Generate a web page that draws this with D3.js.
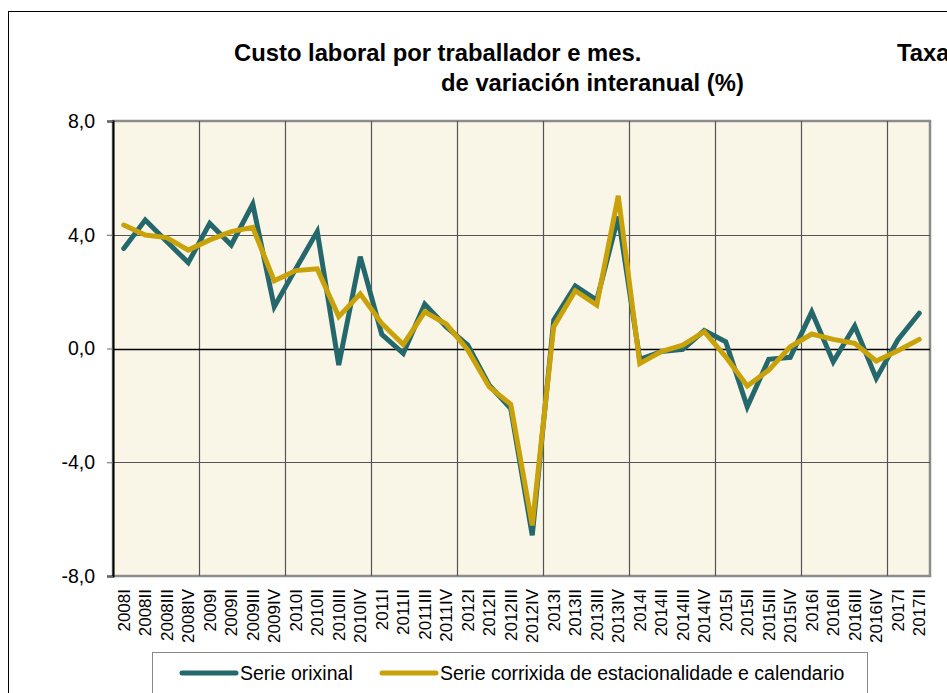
<!DOCTYPE html>
<html>
<head>
<meta charset="utf-8">
<script src="https://cdn.jsdelivr.net/npm/d3@7"></script>
<style>
  body { margin: 0; background: #fff; }
  svg { display: block; font-family: "Liberation Sans", Arial, sans-serif; }
</style>
</head>
<body>
<div id="chart"></div>
<script>
const years = ['2008', '2009', '2010', '2011', '2012', '2013', '2014', '2015', '2016', '2017'];
const quarters = ['I', 'II', 'III', 'IV'];
const categories = [];
years.forEach(y => quarters.forEach(q => categories.push(y + q)));
categories.splice(38); // ends at 2017II

const serieOrixinal = [
  3.52, 4.52, 3.76, 3.02, 4.40, 3.64, 5.08, 1.47,
  2.80, 4.11, -0.58, 3.23, 0.50, -0.17, 1.56, 0.76,
  0.12, -1.29, -2.11, -6.57, 1.00, 2.20, 1.70, 4.64,
  -0.38, -0.11, -0.03, 0.63, 0.24, -2.05, -0.38, -0.31,
  1.29, -0.47, 0.79, -1.05, 0.30, 1.24
];
const serieCorrixida = [
  4.34, 3.99, 3.90, 3.46, 3.82, 4.11, 4.26, 2.38,
  2.74, 2.80, 1.12, 1.92, 0.88, 0.14, 1.29, 0.86,
  -0.05, -1.35, -1.96, -6.22, 0.77, 2.03, 1.53, 5.37,
  -0.53, -0.11, 0.12, 0.59, -0.29, -1.32, -0.76, 0.06,
  0.51, 0.32, 0.18, -0.44, -0.08, 0.32
];
const yTicks = [-8, -4, 0, 4, 8];
const seriesNames = ['Serie orixinal', 'Serie corrixida de estacionalidade e calendario'];
const seriesColors = ['#25686c', '#c9a20a'];

const width = 947, height = 693;
const plot = { left: 113, right: 930, top: 121, bottom: 576 };

const svg = d3.select('#chart')
    .append('svg')
    .attr('width', width)
    .attr('height', height);

// outer frame
svg.append('rect')
    .attr('x', 8.5).attr('y', 11.5)
    .attr('width', 960).attr('height', 700)
    .attr('fill', 'none')
    .attr('stroke', '#000');

// title
const title = svg.append('g')
    .attr('font-weight', 'bold')
    .attr('font-size', 23.8)
    .attr('fill', '#000');
title.append('text').attr('x', 234).attr('y', 61).text('Custo laboral por traballador e mes.');
title.append('text').attr('x', 897).attr('y', 61).text('Taxa');
title.append('text').attr('x', 441).attr('y', 91).text('de variación interanual (%)');

const x = d3.scaleBand()
    .domain(categories)
    .range([plot.left, plot.right]);

const y = d3.scaleLinear()
    .domain([-8, 8])
    .range([plot.bottom, plot.top]);

// plot background with gray frame
svg.append('rect')
    .attr('x', plot.left).attr('y', plot.top)
    .attr('width', plot.right - plot.left)
    .attr('height', plot.bottom - plot.top)
    .attr('fill', '#f9f5e7')
    .attr('stroke', '#8c8c8c')
    .attr('stroke-width', 2.5);

// vertical gridlines at year boundaries
const yearStarts = categories.filter((c, i) => i > 0 && i % 4 === 0);
svg.append('g')
    .selectAll('line')
    .data(yearStarts)
    .join('line')
    .attr('x1', d => Math.round(x(d)) + 0.5)
    .attr('x2', d => Math.round(x(d)) + 0.5)
    .attr('y1', plot.top)
    .attr('y2', plot.bottom)
    .attr('stroke', '#555')
    .attr('stroke-width', 1.2);

// horizontal gridlines
svg.append('g')
    .selectAll('line')
    .data(yTicks.filter(d => d > -8 && d < 8))
    .join('line')
    .attr('x1', plot.left)
    .attr('x2', plot.right)
    .attr('y1', d => Math.round(y(d)) + 0.5)
    .attr('y2', d => Math.round(y(d)) + 0.5)
    .attr('stroke', d => d === 0 ? '#000' : '#555')
    .attr('stroke-width', d => d === 0 ? 1.5 : 1.2);

// y axis
const yAxis = svg.append('g')
    .attr('transform', `translate(${plot.left},0)`)
    .call(d3.axisLeft(y)
        .tickValues(yTicks)
        .tickSize(6)
        .tickPadding(12)
        .tickFormat(d => d3.format('.1f')(d).replace('.', ',').replace('\u2212', '-')));
yAxis.select('.domain').attr('stroke', '#000').attr('stroke-width', 2);
yAxis.selectAll('.tick line').attr('stroke', '#666');
yAxis.selectAll('.tick text')
    .attr('font-size', 19.5)
    .attr('font-family', '"Liberation Sans", Arial, sans-serif')
    .attr('fill', '#000');

// x labels
svg.append('g')
    .selectAll('text')
    .data(categories)
    .join('text')
    .attr('transform', d => `translate(${x(d) + x.bandwidth() / 2 + 6},589) rotate(-90)`)
    .attr('text-anchor', 'end')
    .attr('font-size', 17)
    .attr('fill', '#000')
    .text(d => d);

// lines
const line = d3.line()
    .x((d, i) => x(categories[i]) + x.bandwidth() / 2)
    .y(d => y(d));

[serieOrixinal, serieCorrixida].forEach((s, k) => {
  svg.append('path')
      .datum(s)
      .attr('d', line)
      .attr('fill', 'none')
      .attr('stroke', seriesColors[k])
      .attr('stroke-width', 5)
      .attr('stroke-linejoin', 'miter')
      .attr('stroke-linecap', 'round');
});

// legend
svg.append('rect')
    .attr('x', 152.5).attr('y', 652.5)
    .attr('width', 715).attr('height', 60)
    .attr('fill', '#fff')
    .attr('stroke', '#888');

const legendX = [182, 382];
seriesNames.forEach((name, k) => {
  const g = svg.append('g').attr('transform', `translate(${legendX[k]},673)`);
  g.append('line')
      .attr('x1', 0).attr('x2', 54)
      .attr('stroke', seriesColors[k])
      .attr('stroke-width', 5)
      .attr('stroke-linecap', 'round');
  g.append('text')
      .attr('x', 58).attr('y', 7)
      .attr('font-size', 19.5)
      .attr('fill', '#000')
      .text(name);
});
</script>
</body>
</html>
